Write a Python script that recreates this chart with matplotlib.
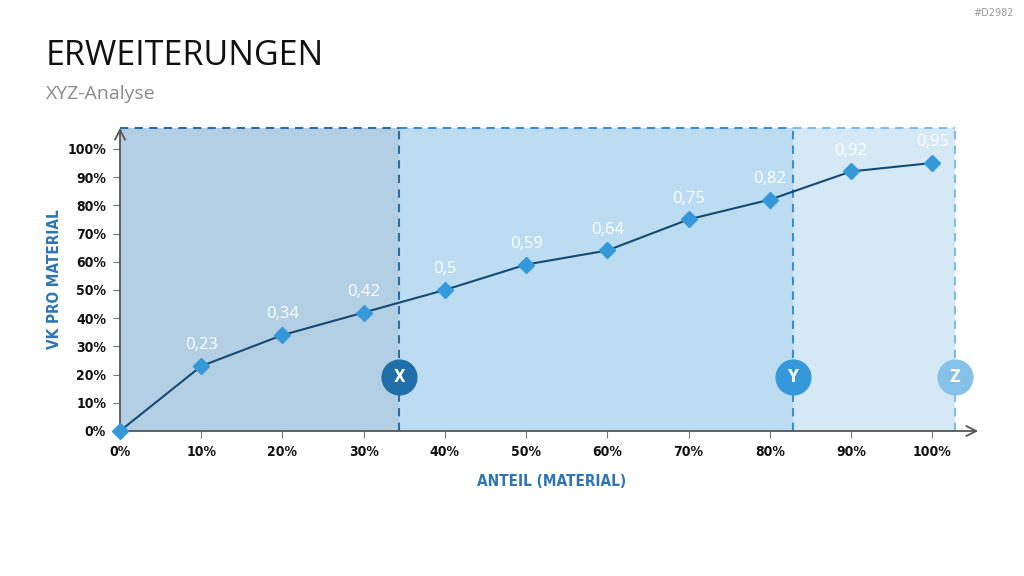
import matplotlib.pyplot as plt
from matplotlib.patches import Rectangle

# data
share = [0, 10, 20, 30, 40, 50, 60, 70, 80, 90, 100]
vk = [0, 0.23, 0.34, 0.42, 0.5, 0.59, 0.64, 0.75, 0.82, 0.92, 0.95]
labels = ['', '0,23', '0,34', '0,42', '0,5', '0,59', '0,64', '0,75', '0,82', '0,92', '0,95']
zone_names = ['X', 'Y', 'Z']
zone_bounds = [0, 34.4, 82.8, 102.8]

zone_fill = ['#b3cfe3', '#bbdcf1', '#d4e8f6']
zone_edge = ['#2b6ea6', '#3b8fd0', '#7fbde9']
circle_col = ['#1f6ea7', '#3498db', '#85c1e9']
axis_blue = '#2e75b6'
cond = dict(family='DejaVu Sans', stretch='condensed', weight='bold')

fig = plt.figure(figsize=(10.24, 5.76), dpi=100)
fig.patch.set_facecolor('white')

fig.text(46 / 1024, 1 - 56 / 576, 'ERWEITERUNGEN', fontsize=24.5, family='Open Sans',
         color='#111111', va='center', ha='left')
fig.text(46 / 1024, 1 - 94 / 576, 'XYZ-Analyse', fontsize=14, family='Open Sans',
         color='#8a8a8a', va='center', ha='left')
fig.text(1014 / 1024, 1 - 13 / 576, '#D2982', fontsize=7, color='#9a9a9a',
         ha='right', va='center')

ax = fig.add_axes([120 / 1024, 1 - 431 / 576, (981 - 120) / 1024, (431 - 128) / 576])
ax.set_xlim(0, 106)
ax.set_ylim(0, 107.4)
for s in ax.spines.values():
    s.set_visible(False)

# zones
for i in range(3):
    x0, x1 = zone_bounds[i], zone_bounds[i + 1]
    ax.add_patch(Rectangle((x0, 0), x1 - x0, 107.4, facecolor=zone_fill[i],
                           edgecolor='none', zorder=0))
    ax.plot([x0, x1], [107.4, 107.4], color=zone_edge[i], lw=1.5, ls=(0, (4, 3)),
            zorder=1, clip_on=False)
    ax.plot([x1, x1], [0, 107.4], color=zone_edge[i], lw=1.5, ls=(0, (4, 3)), zorder=1)

# axes arrows
ax.annotate('', xy=(106, 0), xytext=(0, 0),
            arrowprops=dict(arrowstyle='->', color='#555555', lw=1.3,
                            mutation_scale=18), annotation_clip=False)
ax.annotate('', xy=(0, 108.5), xytext=(0, 0),
            arrowprops=dict(arrowstyle='->', color='#555555', lw=1.3,
                            mutation_scale=18), annotation_clip=False)

# line
yvals = [v * 100 for v in vk]
ax.plot(share, yvals, color='#164a73', lw=1.5, zorder=3)
ax.plot(share, yvals, ls='none', marker='D', ms=8, color='#3498db', zorder=4,
        clip_on=False)
for x, y, t in zip(share, yvals, labels):
    ax.text(x, y + 4.5, t, color='white', fontsize=12, family='Open Sans',
            ha='center', va='bottom', zorder=5)

# zone circles
for i, name in enumerate(zone_names):
    xc = zone_bounds[i + 1]
    ax.plot(xc, 19.1, marker='o', ms=25, color=circle_col[i], zorder=6)
    ax.text(xc, 19.1, name, color='white', fontsize=12, ha='center', va='center',
            zorder=7, **cond)

ax.set_xticks(range(0, 101, 10))
ax.set_xticklabels([f'{v}%' for v in range(0, 101, 10)])
ax.set_yticks(range(0, 101, 10))
ax.set_yticklabels([f'{v}%' for v in range(0, 101, 10)])
ax.tick_params(axis='both', direction='out', length=5, color='#777777',
               labelsize=10, pad=5)
for lab in ax.get_xticklabels() + ax.get_yticklabels():
    lab.set_family('DejaVu Sans')
    lab.set_stretch('condensed')
    lab.set_fontweight('bold')
    lab.set_color('#111111')

ax.set_xlabel('ANTEIL (MATERIAL)', fontsize=11, color=axis_blue, **cond)
ax.xaxis.set_label_coords(431.5 / 861, -43 / 303)
ax.set_ylabel('VK PRO MATERIAL', fontsize=11, color=axis_blue, **cond)
ax.yaxis.set_label_coords(-58 / 861, 0.5)

fig.savefig('out.png', dpi=100)
